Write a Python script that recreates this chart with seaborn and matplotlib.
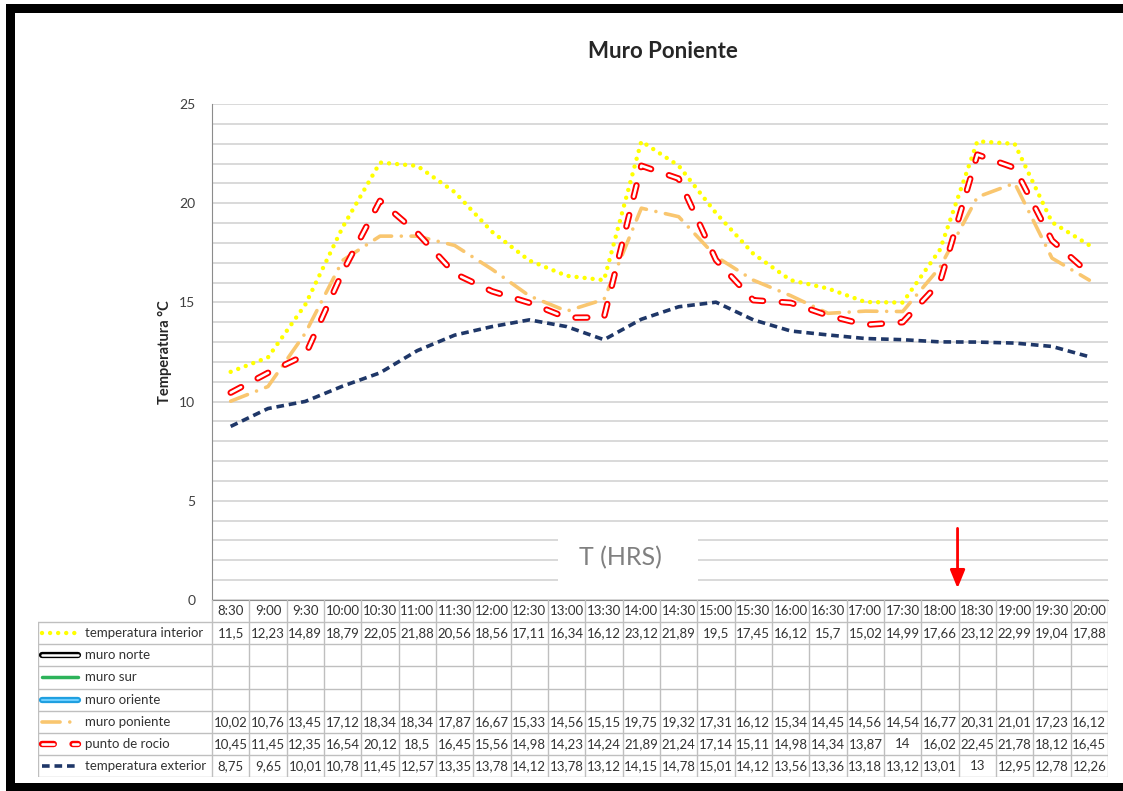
import numpy as np
import pandas as pd
import matplotlib
matplotlib.use("Agg")
import matplotlib.pyplot as plt
from matplotlib.patches import Rectangle
import seaborn as sns

horas = ["8:30", "9:00", "9:30", "10:00", "10:30", "11:00", "11:30", "12:00",
         "12:30", "13:00", "13:30", "14:00", "14:30", "15:00", "15:30", "16:00",
         "16:30", "17:00", "17:30", "18:00", "18:30", "19:00", "19:30", "20:00"]

temp_interior = [11.5, 12.23, 14.89, 18.79, 22.05, 21.88, 20.56, 18.56, 17.11, 16.34, 16.12, 23.12,
                 21.89, 19.5, 17.45, 16.12, 15.7, 15.02, 14.99, 17.66, 23.12, 22.99, 19.04, 17.88]
muro_poniente = [10.02, 10.76, 13.45, 17.12, 18.34, 18.34, 17.87, 16.67, 15.33, 14.56, 15.15, 19.75,
                 19.32, 17.31, 16.12, 15.34, 14.45, 14.56, 14.54, 16.77, 20.31, 21.01, 17.23, 16.12]
punto_rocio = [10.45, 11.45, 12.35, 16.54, 20.12, 18.5, 16.45, 15.56, 14.98, 14.23, 14.24, 21.89,
               21.24, 17.14, 15.11, 14.98, 14.34, 13.87, 14, 16.02, 22.45, 21.78, 18.12, 16.45]
temp_exterior = [8.75, 9.65, 10.01, 10.78, 11.45, 12.57, 13.35, 13.78, 14.12, 13.78, 13.12, 14.15,
                 14.78, 15.01, 14.12, 13.56, 13.36, 13.18, 13.12, 13.01, 13, 12.95, 12.78, 12.26]

series = ["temperatura interior", "muro norte", "muro sur", "muro oriente",
          "muro poniente", "punto de rocio", "temperatura exterior"]
valores = {"temperatura interior": temp_interior, "muro norte": None, "muro sur": None,
           "muro oriente": None, "muro poniente": muro_poniente,
           "punto de rocio": punto_rocio, "temperatura exterior": temp_exterior}

# Estilos (trazos en puntos, sin escalar con el grosor)
estilos = {
    "temperatura interior": [dict(color="#FFFF00", lw=3.2, ls=(0, (0.01, 5.8)), dash_capstyle="round")],
    "muro norte": [dict(color="black", lw=4.5, solid_capstyle="round"),
                   dict(color="white", lw=1.8, solid_capstyle="round")],
    "muro sur": [dict(color="#2DB35A", lw=2.5)],
    "muro oriente": [dict(color="#1E9FE0", lw=4.5, solid_capstyle="round"),
                     dict(color="#6CCEFF", lw=1.5, solid_capstyle="round")],
    "muro poniente": [dict(color="#F9C66F", lw=2.6, ls=(0, (13, 7, 0.01, 7)), dash_capstyle="round")],
    "punto de rocio": [dict(color="#FF0000", lw=4.6, ls=(0, (8.5, 13.5)), dash_capstyle="round"),
                       dict(color="white", lw=1.9, ls=(0, (8.5, 13.5)), dash_capstyle="round")],
    "temperatura exterior": [dict(color="#1F3768", lw=2.6, ls=(0, (5.5, 3.5)))],
}

sns.set_style("white")
plt.rcParams["font.family"] = ["Lato", "DejaVu Sans"]
plt.rcParams["lines.scale_dashes"] = False

W, H = 1123, 791
fig = plt.figure(figsize=(W / 100, H / 100), dpi=100)

# Área de gráfico
ax = fig.add_axes([212 / W, 1 - 600 / H, 896 / W, 496 / H])
pos = np.arange(len(horas))
for nombre in series:
    if valores[nombre] is None:
        continue
    df = pd.DataFrame({"pos": pos, "valor": valores[nombre]})
    for st in estilos[nombre]:
        kw = dict(st)
        sns.lineplot(data=df, x="pos", y="valor", ax=ax, color=kw.pop("color"),
                     linewidth=kw.pop("lw"), linestyle=kw.pop("ls", "-"), zorder=3, **kw)

ax.set_xlim(-0.5, len(horas) - 0.5)
ax.set_ylim(0, 25)
ax.set_yticks(range(0, 26, 5))
ax.set_yticks(range(0, 26), minor=True)
ax.set_xticks([])
ax.grid(which="both", axis="y", color="#D3D3D3", lw=1.2)
ax.tick_params(axis="y", length=0, labelsize=10, labelcolor="#404040", pad=12)
ax.set_xlabel("")
ax.set_ylabel("Temperatura °C", fontsize=10.5, fontweight="bold", labelpad=5)
for s in ["top", "right"]:
    ax.spines[s].set_visible(False)
for s in ["left", "bottom"]:
    ax.spines[s].set_color("#8C8C8C")

fig.text(663 / W, 1 - 52 / H, "Muro Poniente", ha="center", va="center",
         fontsize=16, fontweight="bold")

# Título del eje X sobre fondo blanco
ax.add_patch(Rectangle((8.77, 0.5), 3.75, 3.0, facecolor="white", edgecolor="none", zorder=2))
ax.text(10.45, 2.15, "T (HRS)", ha="center", va="center", fontsize=18, color="#808080", zorder=4)

# Flecha roja
ax.annotate("", xy=(19.47, 0.45), xytext=(19.47, 3.75),
            arrowprops=dict(arrowstyle="-|>,head_width=0.45,head_length=1.1",
                            color="#FF0000", lw=2), zorder=5)

# Tabla de datos
colw = 896 / len(horas)
izq = -0.5 - (212 - 38) / colw
tab = fig.add_axes([38 / W, 1 - 777 / H, (1108 - 38) / W, 177 / H])
tab.set_xlim(izq, len(horas) - 0.5)
tab.set_ylim(8, 0)
tab.axis("off")

def tx(px):
    return izq + (px - 38) / colw

linea = dict(color="#BFBFBF", lw=1)
for k in range(len(horas) + 1):
    tab.plot([k - 0.5, k - 0.5], [0, 8], **linea)
tab.plot([izq, izq], [1, 8], **linea)
for r in range(1, 9):
    tab.plot([izq, len(horas) - 0.5], [r, r], **linea)

for i, h in enumerate(horas):
    tab.text(i, 0.5, h, ha="center", va="center", fontsize=9.5, color="#333333")

for r, nombre in enumerate(series, start=1):
    fila = r + 0.5
    for st in estilos[nombre]:
        kw = dict(st)
        tab.plot([tx(42), tx(78)], [fila, fila], color=kw.pop("color"),
                 linewidth=kw.pop("lw"), linestyle=kw.pop("ls", "-"), **kw)
    tab.text(tx(85), fila, nombre, ha="left", va="center", fontsize=9.5, color="#333333")
    if valores[nombre] is not None:
        for i, v in enumerate(valores[nombre]):
            tab.text(i, fila, f"{v:g}".replace(".", ","), ha="center", va="center",
                     fontsize=9.5, color="#333333")

# Marco negro
for x0, y0, w, h in [(6, 4, 9, 787), (6, 4, 1117, 9), (6, 783, 1117, 8)]:
    fig.patches.append(Rectangle((x0 / W, 1 - (y0 + h) / H), w / W, h / H,
                                 transform=fig.transFigure, facecolor="black",
                                 edgecolor="none", figure=fig))

fig.savefig("out.png", dpi=100)
